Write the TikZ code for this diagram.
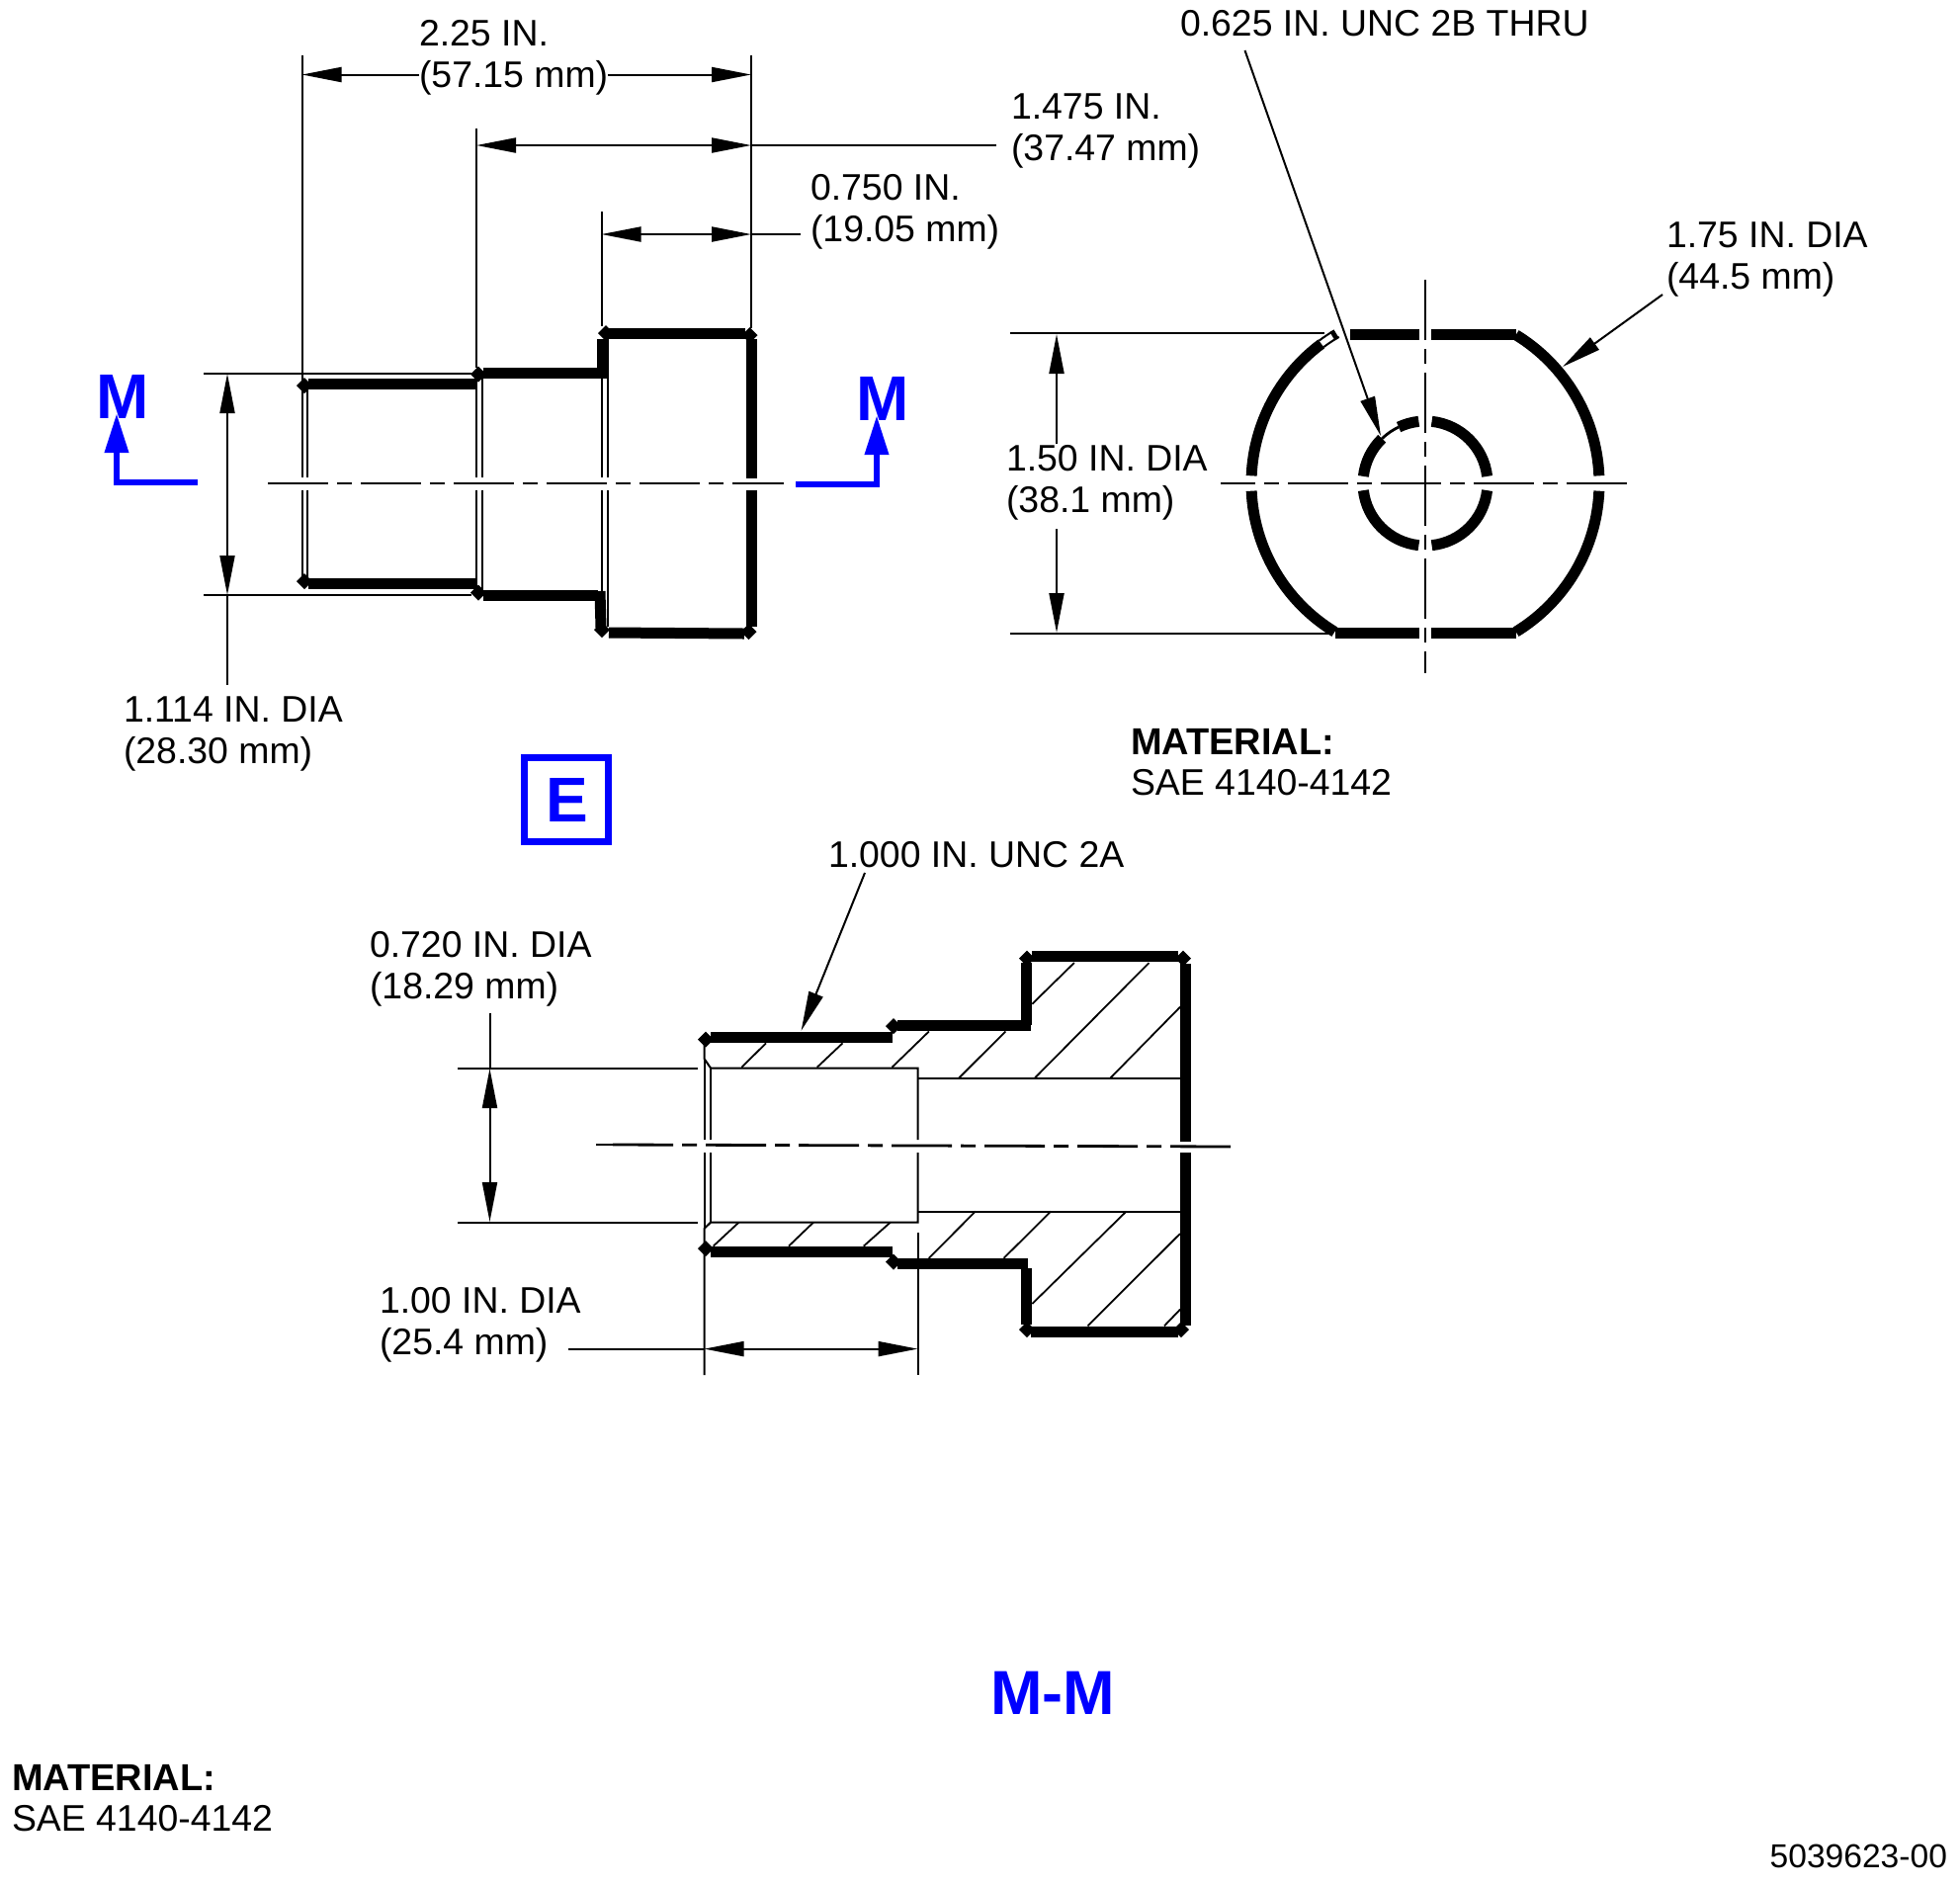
\documentclass[tikz,border=0pt]{standalone}
\usepackage{fontspec}
\setmainfont{Liberation Sans}
\usetikzlibrary{arrows.meta, shapes.geometric}
\definecolor{secblue}{HTML}{0000FF}

\begin{document}
\begin{tikzpicture}[
	x=0.5pt, y=-0.5pt,
	every node/.style={inner sep=0pt, outer sep=0pt},
	label/.style={font=\fontsize{18.7pt}{20.75pt}\selectfont, align=left, anchor=base west},
	heading/.style={font=\fontsize{19pt}{20.75pt}\selectfont\bfseries, anchor=base west},
	seclabel/.style={font=\fontsize{32pt}{36pt}\selectfont\bfseries, text=secblue, anchor=base},
	outline/.style={line width=5.5pt},
	thinline/.style={line width=1pt},
	hatch/.style={line width=0.9pt},
	centreline/.style={line width=1.4pt, dash pattern=on 30.5pt off 4.5pt on 7.5pt off 4.5pt},
	dimarrow/.style={line width=1pt, -{Triangle[length=20pt,width=7.5pt]}},
	bothdim/.style={line width=1pt, {Triangle[length=20pt,width=7.5pt]}-{Triangle[length=20pt,width=7.5pt]}},
	secarrow/.style={line width=3.3pt, secblue, -{Triangle[length=20pt,width=11.5pt]}},
	corner/.style={diamond, fill=black, minimum size=8pt},
	]
	
	\useasboundingbox (0,0) rectangle (1983,1908);
	
	% side view
	\draw[outline] (312,388) -- (482,388);
	\draw[outline] (312,590) -- (482,590);
	\draw[outline] (489,377.5) -- (609,377.5);
	\draw[outline] (489,602) -- (605,602);
	\draw[outline] (609,343) -- (609,383);
	\draw[outline] (607,598) -- (608,635);
	\draw[outline] (616,337) -- (754,337);
	\draw[outline] (616,640) -- (753,641);
	\draw[outline] (760,343) -- (760,484) (760,496) -- (760,634);
	\node[corner] (c1) at (308,390) {};
	\node[corner] (c2) at (484,378.5) {};
	\node[corner] (c3) at (613,337) {};
	\node[corner] (c4) at (758.5,339) {};
	\node[corner] (c5) at (308,588) {};
	\node[corner] (c6) at (484,599.5) {};
	\node[corner] (c7) at (609,637) {};
	\node[corner] (c8) at (757.5,639) {};
	\draw[thinline] (305.5,392) -- (305.5,483) (305.5,496) -- (305.5,586);
	\draw[thinline] (311,392) -- (311,483) (311,496) -- (311,586);
	\draw[thinline] (482,382) -- (482,483) (482,496) -- (482,596);
	\draw[thinline] (488,382) -- (488,483) (488,496) -- (488,596);
	\draw[thinline] (609,380) -- (609,483) (609,496) -- (609,598);
	\draw[thinline] (615,342) -- (615,483) (615,496) -- (615,634);
	\draw[centreline] (271,489) -- (793,489);
	
	% dimensions of the side view
	\coordinate (sa1) at (305.5,56);
	\coordinate (sa2) at (305.5,385);
	\coordinate (sb1) at (482,130);
	\coordinate (sb2) at (482,372);
	\coordinate (sc1) at (608.5,214);
	\coordinate (sc2) at (608.5,330);
	\coordinate (sd1) at (760,56);
	\coordinate (sd2) at (760,332);
	\draw[thinline] (sa1) -- (sa2);
	\draw[thinline] (sb1) -- (sb2);
	\draw[thinline] (sc1) -- (sc2);
	\draw[thinline] (sd1) -- (sd2);
	
	\node[label] (lenall) at (424,88) {2.25 IN.\\(57.15 mm)};
	\coordinate (lenallA) at (424,75.5);
	\coordinate (lenallB) at (615,75.5);
	\draw[dimarrow] (lenallA) -- (305.5,75.5);
	\draw[dimarrow] (lenallB) -- (760,75.5);
	
	\node[label] (lenthread) at (1023,162) {1.475 IN.\\(37.47 mm)};
	\coordinate (lenthreadA) at (1008,147);
	\draw[thinline] (lenthreadA) -- (760,147);
	\draw[bothdim] (482,147) -- (760,147);
	
	\node[label] (lenhead) at (820,244) {0.750 IN.\\(19.05 mm)};
	\coordinate (lenheadA) at (810,237);
	\draw[thinline] (lenheadA) -- (760,237);
	\draw[bothdim] (608.5,237) -- (760,237);
	
	\coordinate (nda) at (206,377.5);
	\coordinate (ndb) at (477,377.5);
	\coordinate (ndc) at (206,602);
	\coordinate (ndd) at (477,602);
	\draw[thinline] (nda) -- (ndb);
	\draw[thinline] (ndc) -- (ndd);
	\draw[bothdim] (230,378) -- (230,602);
	\node[label] (dianeck) at (125,772) {1.114 IN. DIA\\(28.30 mm)};
	\coordinate (dianeckA) at (230,693);
	\draw[thinline] (230,602) -- (dianeckA);
	
	% section marks
	\node[seclabel] (secl) at (124,423) {M};
	\node[seclabel] (secr) at (893,425) {M};
	\coordinate (secla) at (200,488);
	\coordinate (seclb) at (118,488);
	\coordinate (secra) at (805,490);
	\coordinate (secrb) at (887,490);
	\draw[secarrow] (secla) -- (seclb) -- (118,418);
	\draw[secarrow] (secra) -- (secrb) -- (887,420);
	
	\node[draw=secblue, line width=3.4pt, minimum size=42.5pt] (viewbox) at (573,809) {};
	\node[font=\fontsize{32pt}{36pt}\selectfont\bfseries, text=secblue] (viewname) at (574,809) {E};
	
	% end view
	\draw[outline] (1442,489) ++(-58.6:176) arc[start angle=-58.6, end angle=-2.5, radius=176];
	\draw[outline] (1442,489) ++(2.5:176) arc[start angle=2.5, end angle=58.6, radius=176];
	\draw[outline] (1442,489) ++(121.4:176) arc[start angle=121.4, end angle=177.5, radius=176];
	\draw[outline] (1442,489) ++(182.5:176) arc[start angle=182.5, end angle=233.3, radius=176];
	\draw[thinline] (1442,489) ++(233.3:172) arc[start angle=233.3, end angle=239.5, radius=172];
	\draw[thinline] (1442,489) ++(233.3:180) arc[start angle=233.3, end angle=238.5, radius=180];
	\draw[line width=2.4pt] (1442,489) ++(238.5:171) -- ++(238.5:10);
	\draw[outline] (1366,338) -- (1436,338) (1448,338) -- (1534,338);
	\draw[outline] (1351,640) -- (1436,640) (1448,640) -- (1534,640);
	\draw[outline] (1442,489) ++(-84:63) arc[start angle=-84, end angle=-6.5, radius=63];
	\draw[outline] (1442,489) ++(6.5:63) arc[start angle=6.5, end angle=84, radius=63];
	\draw[outline] (1442,489) ++(96:63) arc[start angle=96, end angle=173.5, radius=63];
	\draw[outline] (1442,489) ++(186.5:63) arc[start angle=186.5, end angle=226, radius=63];
	\draw[outline] (1442,489) ++(244.7:63) arc[start angle=244.7, end angle=264, radius=63];
	\draw[line width=1.4pt] (1442,489) ++(226:63) arc[start angle=226, end angle=244.7, radius=63];
	\draw[centreline] (1442,283) -- (1442,681);
	\draw[centreline, dash phase=26*0.5pt] (1235,489) -- (1649,489);
	
	% dimensions of the end view
	\node[label] (tapped) at (1194,36.7) {0.625 IN. UNC 2B THRU};
	\coordinate (tappedA) at (1259.5,51);
	\coordinate (tappedB) at (1397,441);
	\draw[dimarrow] (tappedA) -- (tappedB);
	\node[label] (flats) at (1686,292) {1.75 IN. DIA\\(44.5 mm)};
	\coordinate (flatsA) at (1682,298);
	\coordinate (flatsB) at (1581,371);
	\draw[dimarrow] (flatsA) -- (flatsB);
	\node[label] (across) at (1018,518) {1.50 IN. DIA\\(38.1 mm)};
	\coordinate (acrossA) at (1069,449);
	\coordinate (acrossB) at (1069,338);
	\coordinate (acrossC) at (1069,535);
	\coordinate (acrossD) at (1069,640);
	\draw[dimarrow] (acrossA) -- (acrossB);
	\draw[dimarrow] (acrossC) -- (acrossD);
	\coordinate (eda) at (1022,337);
	\coordinate (edb) at (1340,337);
	\coordinate (edc) at (1022,641);
	\coordinate (edd) at (1345,641);
	\draw[thinline] (eda) -- (edb);
	\draw[thinline] (edc) -- (edd);
	
	\node[heading] (matA) at (1144,763) {MATERIAL:};
	\node[label] (matAb) at (1144,804) {SAE 4140-4142};
	
	% section M-M
	\draw[hatch] (750.4,1079.7) -- (775,1055.3);
	\draw[hatch] (826.7,1079.7) -- (852.5,1055.3);
	\draw[hatch] (902.5,1079.7) -- (939.8,1043.5);
	\draw[hatch] (970.2,1090.5) -- (1017.3,1043.5);
	\draw[hatch] (1044.3,1015.7) -- (1086.8,974);
	\draw[hatch] (1047,1090.5) -- (1162.5,974);
	\draw[hatch] (1123.5,1090.5) -- (1194,1018.7);
	\draw[hatch] (721.7,1260.6) -- (747.5,1236.6);
	\draw[hatch] (798,1260.6) -- (823,1236.6);
	\draw[hatch] (873.8,1260.6) -- (900.8,1236.6);
	\draw[hatch] (939.8,1272.8) -- (986.9,1225.5);
	\draw[hatch] (1015.6,1272.8) -- (1063.2,1225.5);
	\draw[hatch] (1044.3,1319) -- (1139.5,1225.5);
	\draw[hatch] (1100.5,1341.3) -- (1194,1248);
	\draw[hatch] (1178,1341.3) -- (1194,1324.7);
	
	\draw[thinline] (712.5,1050) -- (712.5,1071) -- (719,1080.5) -- (928.5,1080.5) -- (928.5,1153);
	\draw[thinline] (928.5,1166) -- (928.5,1236.6) -- (719,1236.6) -- (712.5,1243) -- (712.5,1391);
	\draw[thinline] (712.5,1071) -- (712.5,1153) (712.5,1166) -- (712.5,1243);
	\draw[thinline] (719,1080.5) -- (719,1153) (719,1166) -- (719,1236.6);
	\draw[thinline] (928.5,1090.5) -- (1195,1090.5);
	\draw[thinline] (928.5,1225.5) -- (1195,1225.5);
	\draw[thinline] (928.5,1247) -- (928.5,1391);
	
	\draw[outline] (719,1049) -- (902.5,1049);
	\draw[outline] (908,1037) -- (1043,1037);
	\draw[outline] (1038,1037) -- (1038,974);
	\draw[outline] (1044,967.6) -- (1192,967.6);
	\draw[outline] (1199,975) -- (1199,1154.5) (1199,1166) -- (1199,1341);
	\draw[outline] (1043,1347.6) -- (1192,1347.6);
	\draw[outline] (1038,1283) -- (1038,1339.5);
	\draw[outline] (908,1278.4) -- (1040,1278.4);
	\draw[outline] (719,1266) -- (902.5,1266);
	\node[corner] (s1) at (714,1051.6) {};
	\node[corner] (s2) at (904,1038) {};
	\node[corner] (s3) at (1039,969.5) {};
	\node[corner] (s4) at (1197,969.5) {};
	\node[corner] (s5) at (714,1263) {};
	\node[corner] (s6) at (904,1276.5) {};
	\node[corner] (s7) at (1039,1345) {};
	\node[corner] (s8) at (1195,1345) {};
	\coordinate (axisA) at (603,1158);
	\coordinate (axisB) at (1247,1160);
	\draw[line width=1.4pt] (axisA) -- (620,1158);
	\draw[centreline] (620,1158) -- (axisB);
	
	% dimensions of the section
	\node[label] (thread) at (838,877) {1.000 IN. UNC 2A};
	\coordinate (threadA) at (875,883);
	\coordinate (threadB) at (810.6,1042.7);
	\draw[dimarrow] (threadA) -- (threadB);
	\node[label] (bore) at (374,1010) {0.720 IN. DIA\\(18.29 mm)};
	\coordinate (boreA) at (495.5,1025);
	\coordinate (boreB) at (495.5,1081);
	\coordinate (boreC) at (495.5,1236);
	\draw[thinline] (boreA) -- (boreB);
	\draw[bothdim] (boreB) -- (boreC);
	\coordinate (bda) at (463,1080.5);
	\coordinate (bdb) at (706,1080.5);
	\coordinate (bdc) at (463,1236.6);
	\coordinate (bdd) at (706,1236.6);
	\draw[thinline] (bda) -- (bdb);
	\draw[thinline] (bdc) -- (bdd);
	\node[label] (depth) at (384,1370) {1.00 IN. DIA\\(25.4 mm)};
	\coordinate (depthA) at (575,1364.6);
	\coordinate (depthB) at (712.5,1364.6);
	\coordinate (depthC) at (928.5,1364.6);
	\draw[thinline] (depthA) -- (depthB);
	\draw[bothdim] (depthB) -- (depthC);
	
	\node[seclabel, font=\fontsize{31.5pt}{38pt}\selectfont\bfseries] (secname) at (1065,1734) {M-M};
	\node[heading] (matB) at (12,1811) {MATERIAL:};
	\node[label] (matBb) at (12,1852) {SAE 4140-4142};
	\node[font=\fontsize{16.8pt}{20pt}\selectfont, anchor=base east] (partno) at (1970,1889.5) {5039623-00};
	
\end{tikzpicture}
\end{document}
